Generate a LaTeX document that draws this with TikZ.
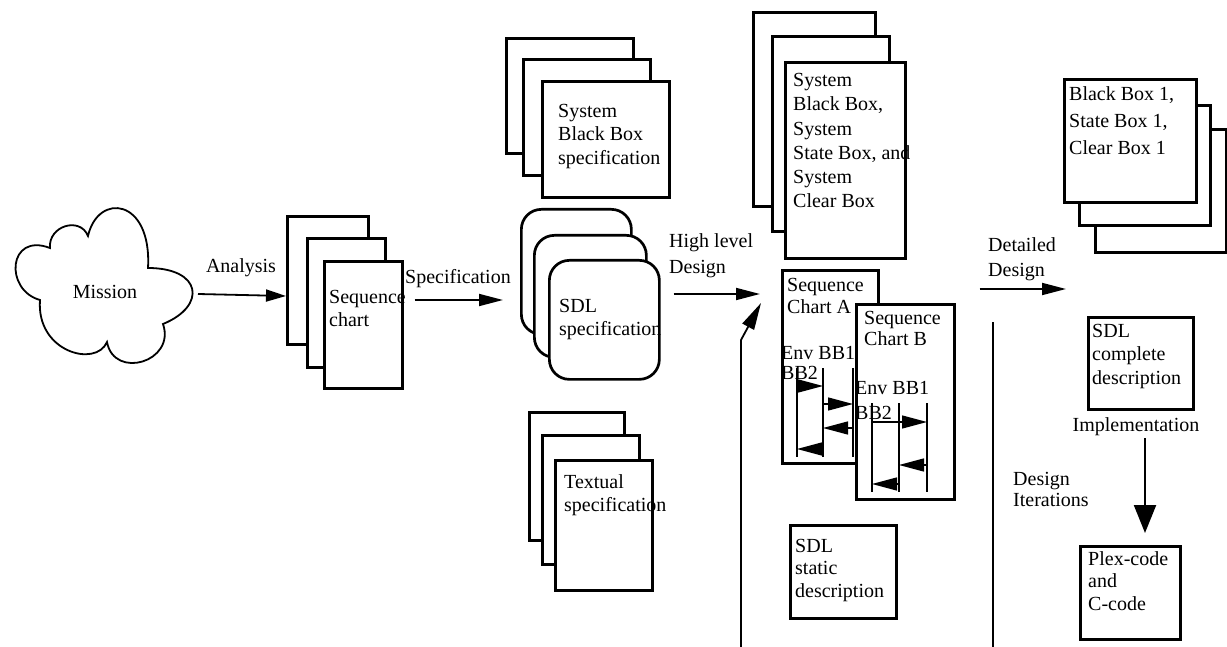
\documentclass[tikz,border=0pt]{standalone}
\usepackage{fontspec}
\setmainfont{Liberation Serif}
\usetikzlibrary{arrows.meta,calc}
\newcommand\tsz{\fontsize{20}{23.5}\selectfont}
\newcommand\bsk[1]{\fontsize{20}{#1}\selectfont}
\begin{document}
\begin{tikzpicture}[x=1pt,y=-1pt,
 rect/.style={draw, line width=2.7pt, fill=white, anchor=north west, inner sep=0pt},
 rrect/.style={rect, rounded corners=20pt},
 txt/.style={anchor=north west, inner sep=0pt, align=left, font=\tsz},
 lbl/.style={inner sep=0pt, font=\tsz},
 arr/.style={line width=1.8pt, -{Triangle[length=24pt,width=12pt]}},
 life/.style={line width=1.6pt},
 msg/.style={line width=1.4pt, -{Triangle[length=25pt,width=13pt]}},
 cloudline/.style={line width=1.8pt},
]
\useasboundingbox (0,0) rectangle (1227,647);

% Mission cloud
\draw[cloudline] (50,248) .. controls (48,226) and (80,216) .. (88,236)
  .. controls (98,192) and (152,198) .. (148,268)
  .. controls (202,268) and (207,306) .. (163,324)
  .. controls (176,362) and (114,380) .. (107,342)
  .. controls (96,368) and (36,352) .. (40,300)
  .. controls (4,290) and (8,232) .. cycle;
\node[lbl] (mission) at (105,292) {Mission};
\coordinate (cloudE) at (198,294);

% Sequence chart stack
\node[rect, minimum width=81pt, minimum height=128pt] (sc1) at (286,215) {};
\node[rect, minimum width=78pt, minimum height=129pt] (sc2) at (306,237) {};
\node[rect, minimum width=78pt, minimum height=127pt] (sc3) at (323,260) {};
\node[txt] (sct) at (329,286.5) {\strut Sequence\\chart};

% System Black Box specification stack
\node[rect, minimum width=127pt, minimum height=115pt] (bb1) at (505,37) {};
\node[rect, minimum width=127pt, minimum height=116pt] (bb2) at (522,58) {};
\node[rect, minimum width=127pt, minimum height=116pt] (bb3) at (541,80) {};
\node[txt] (bbt) at (558,100.5) {\strut System\\Black Box\\specification};

% SDL specification stack
\node[rrect, minimum width=110pt, minimum height=125pt] (sd1) at (520,208) {};
\node[rrect, minimum width=112pt, minimum height=122pt] (sd2) at (533,234) {};
\node[rrect, minimum width=110pt, minimum height=119pt] (sd3) at (548,259) {};
\node[txt] (sdt) at (559,295.5) {\strut SDL\\specification};

% Textual specification stack
\node[rect, minimum width=95pt, minimum height=128pt] (tx1) at (528,411) {};
\node[rect, minimum width=97pt, minimum height=129pt] (tx2) at (541,434) {};
\node[rect, minimum width=97pt, minimum height=130pt] (tx3) at (554,459) {};
\node[txt] (txt3) at (564,471.5) {\strut Textual\\specification};

% System boxes stack
\node[rect, minimum width=122pt, minimum height=194pt] (ss1) at (752,11) {};
\node[rect, minimum width=117pt, minimum height=195pt] (ss2) at (771,35) {};
\node[rect, minimum width=120pt, minimum height=196pt] (ss3) at (784,61) {};
\node[txt, font=\bsk{24.2}] (sst) at (793,69.5) {\strut System\\Black Box,\\System\\State Box, and\\System\\Clear Box};

% Sequence chart A
\node[rect, minimum width=96pt, minimum height=193pt] (sa) at (781,269) {};
\node[txt, font=\bsk{22}] (sat) at (787,275.5) {\strut Sequence\\Chart A};
\node[txt, font=\bsk{20}] (sae) at (781,345.5) {\strut Env BB1\\BB2};
\coordinate (a1) at (797,368); \coordinate (a1b) at (797,457);
\coordinate (a2) at (823,368); \coordinate (a2b) at (823,457);
\coordinate (a3) at (853,368); \coordinate (a3b) at (853,457);
\draw[life] (a1) -- (a1b); \draw[life] (a2) -- (a2b); \draw[life] (a3) -- (a3b);
\draw[msg] (a1 |- 0,386) -- (a2 |- 0,386);
\draw[msg] (a2 |- 0,404) -- (a3 |- 0,404);
\draw[msg] (a3 |- 0,428) -- (a2 |- 0,428);
\draw[msg] (a2 |- 0,449) -- (a1 |- 0,449);

% Sequence chart B
\node[rect, minimum width=98pt, minimum height=195pt] (sb) at (855,303) {};
\node[txt, font=\bsk{21}] (sbt) at (864,309.5) {\strut Sequence\\Chart B};
\node[txt, font=\bsk{25}] (sbe) at (855,376.5) {\strut Env BB1\\BB2};
\coordinate (b1) at (872,403); \coordinate (b1b) at (872,492);
\coordinate (b2) at (899,403); \coordinate (b2b) at (899,492);
\coordinate (b3) at (927,403); \coordinate (b3b) at (927,492);
\draw[life] (b1) -- (b1b); \draw[life] (b2) -- (b2b); \draw[life] (b3) -- (b3b);
\draw[msg] (b1 |- 0,422) -- (b3 |- 0,422);
\draw[msg] (b3 |- 0,465) -- (b2 |- 0,465);
\draw[msg] (b2 |- 0,484) -- (b1 |- 0,484);

% SDL static description
\node[rect, minimum width=106pt, minimum height=93pt] (sst2) at (789,524) {};
\node[txt, font=\bsk{22.5}] (sstt) at (795,536.5) {\strut SDL\\static\\description};

% Black Box 1 stack (front box on top)
\node[rect, minimum width=131pt, minimum height=123pt] (bx3) at (1094,128) {};
\node[rect, minimum width=131pt, minimum height=120pt] (bx2) at (1078,104) {};
\node[rect, minimum width=132pt, minimum height=123pt] (bx1) at (1063,78) {};
\node[txt, font=\bsk{27}] (bxt) at (1069,81.5) {\strut Black Box 1,\\State Box 1,\\Clear Box 1};

% SDL complete description
\node[rect, minimum width=105pt, minimum height=92pt] (sdlc) at (1087,316) {};
\node[txt] (sdlct) at (1092,320.5) {\strut SDL\\complete\\description};

% Plex-code and C-code
\node[rect, minimum width=100pt, minimum height=93pt] (plex) at (1079,545) {};
\node[txt, font=\bsk{22.5}] (plext) at (1088,549.5) {\strut Plex-code\\and\\C-code};

% Labels
\node[lbl] (lanalysis) at (241,268) {Analysis};
\node[lbl] (lspec) at (458,279) {Specification};
\node[txt, font=\bsk{26}] (lhigh) at (669,229.5) {\strut High level\\Design};
\node[txt, font=\bsk{25}] (ldet) at (988,233.5) {\strut Detailed\\Design};
\node[lbl] (limpl) at (1136,427) {Implementation};
\node[txt, font=\bsk{21}] (liter) at (1013,470.5) {\strut Design\\Iterations};

% Connectors
\draw[arr, -{Triangle[length=20pt,width=12pt]}] (cloudE) -- (sc1.west |- 0,296);
\draw[arr] ($(sc3.east |- 0,300)+(11,0)$) -- ($(sd1.west |- 0,300)+(-17,0)$);
\draw[arr] ($(sd3.east |- 0,294)+(13,0)$) -- ($(sa.west |- 0,294)+(-21,0)$);
\draw[arr] ($(sb.east |- 0,289)+(24,0)$) -- ($(bx1.west |- 0,289)+(3,0)$);
\coordinate (implS) at (1145,438);
\draw[arr, line width=2.2pt, -{Triangle[length=28pt,width=22pt]}] (implS) -- ($(implS |- plex.north)+(0,-12)$);
\coordinate (iterB) at (741,647);
\coordinate (iterK) at (741,340);
\draw[arr, -{Triangle[length=27pt,width=13pt]}] (iterB) -- (iterK) -- ($(sa.west |- 0,303)+(-20,0)$);
\coordinate (rlT) at (993,322);
\coordinate (rlB) at (993,647);
\draw[line width=1.8pt] (rlT) -- (rlB);
\end{tikzpicture}
\end{document}
